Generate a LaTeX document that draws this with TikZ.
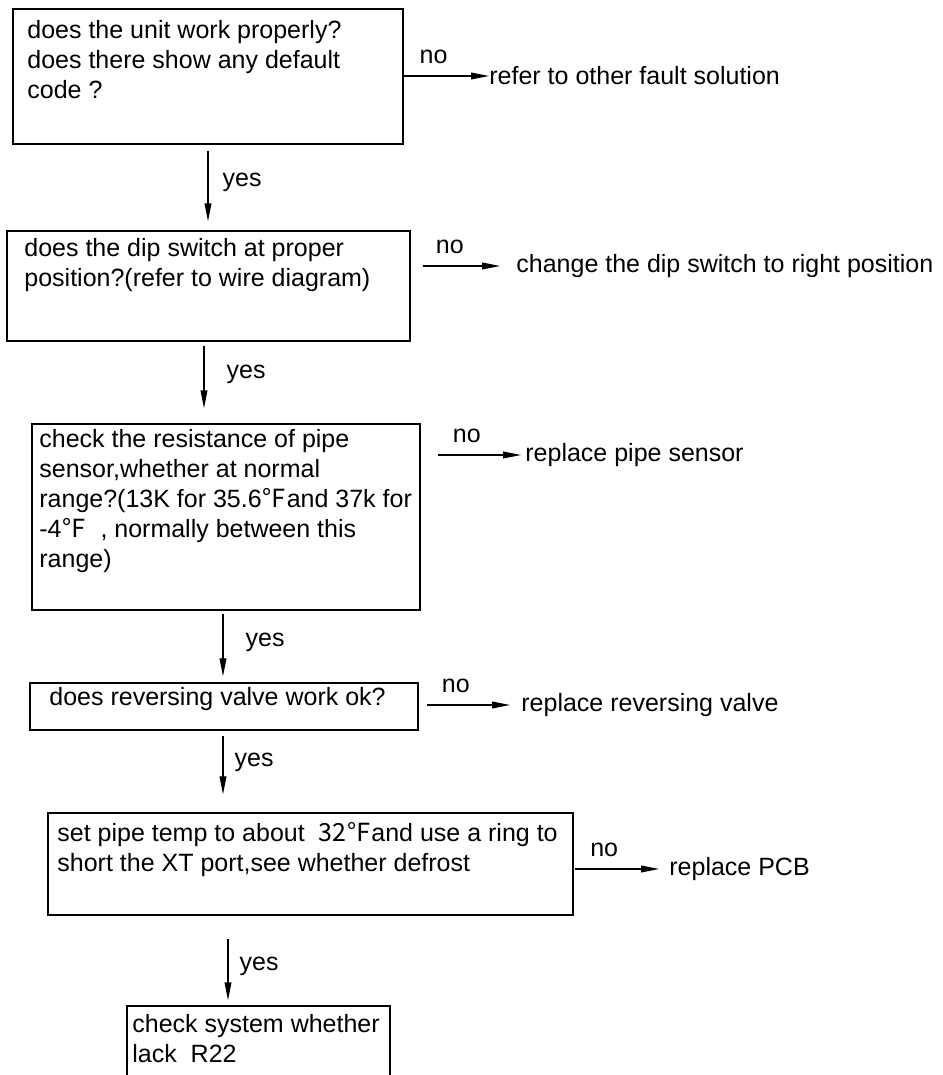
\documentclass[tikz,border=0pt]{standalone}
\usepackage{fontspec}
\setmainfont{Liberation Sans}
\newfontfamily\cjk{Noto Sans CJK SC}
\usepackage{tikz}
\usetikzlibrary{positioning, calc, arrows.meta}

\begin{document}
\begin{tikzpicture}[
		x=0.5pt, y=-0.5pt,
		every node/.style={font=\fontsize{12.5}{15}\selectfont},
		qbox/.style={rectangle,draw,line width=0.7pt,inner sep=0},
		qtext/.style={anchor=north west,align=left,inner sep=0},
		ans/.style={anchor=west,inner sep=0},
		flow/.style={-{Triangle[length=9pt,width=3.4pt]},line width=0.6pt},
		nolab/.style={above=6pt,pos=0.35,inner sep=0},
		yeslab/.style={right=#1,pos=0.45,inner sep=0},
		yeslab/.default=7pt]
		\useasboundingbox (0,0) rectangle (942,1075);
		\clip (0,0) rectangle (942,1075);
		\node[qbox, minimum width=195pt, minimum height=67.5pt] (q1) at (208,76.5) {};
		\node[qbox, minimum width=201.5pt, minimum height=55pt] (q2) at (208.5,286) {};
		\node[qbox, minimum width=194pt, minimum height=93pt] (q3) at (226,517) {};
		\node[qbox, minimum width=194pt, minimum height=23.5pt] (q4) at (224,706.5) {};
		\node[qbox, minimum width=262.5pt, minimum height=51pt] (q5) at (310.5,864) {};
		\node[qbox, minimum width=131.5pt, minimum height=50pt] (q6) at (258.5,1056) {};
		
		% texts inside the boxes
		\node[qtext] (t1) at (27,20) {does the unit work properly?\\does there show any default\\code ?};
		\node[qtext] (t2) at (24,238) {does the dip switch at proper\\position?(refer to wire diagram)};
		\node[qtext] (t3) at (39,429) {check the resistance of pipe\\sensor,whether at normal\\range?(13K for 35.6{\cjk ℉}and 37k for\\-4{\cjk ℉}\ \ , normally between this\\range)};
		\node[qtext] (t4) at (49,687) {does reversing valve work ok?};
		\node[qtext] (t5) at (57,822) {set pipe temp to about\ \ {\cjk 32℉}and use a ring to\\short the XT port,see whether defrost};
		\node[qtext] (t6) at (132,1014) {check system whether\\lack\ \ R22};
		
		\node[ans] (a1) at (489,76) {refer to other fault solution};
		\node[ans] (a2) at (516,266) {change the dip switch to right position};
		\node[ans] (a3) at (525,455) {replace pipe sensor};
		\node[ans] (a4) at (521,705) {replace reversing valve};
		\node[ans] (a5) at (669,869) {replace PCB};
		
		\draw[flow] (q1.east |- a1.west) -- node[nolab]{no} (a1.west);
		\draw[flow] ($(q2.east |- a2.west)+(12,0)$) -- node[nolab]{no} ($(a2.west)+(-16,0)$);
		\draw[flow] ($(q3.east |- a3.west)+(17,0)$) -- node[nolab]{no} ($(a3.west)+(-4,0)$);
		\draw[flow] ($(q4.east |- a4.west)+(8,0)$) -- node[nolab]{no} ($(a4.west)+(-11,0)$);
		\draw[flow] ($(q5.east |- a5.west)+(1,0)$) -- node[nolab]{no} ($(a5.west)+(-10,0)$);
		
		\draw[flow] ($(q1.south)+(0,6)$) -- node[yeslab]{yes} ($(q2.north)+(-0.5,-9)$);
		\draw[flow] ($(q2.south)+(-4.5,4)$) -- node[yeslab=11pt]{yes} ($(q3.north)+(-22,-15)$);
		\draw[flow] ($(q3.south)+(-3,3)$) -- node[yeslab=11pt]{yes} ($(q4.north)+(-1,-6)$);
		\draw[flow] ($(q4.south)+(-1,5)$) -- node[yeslab=5.5pt]{yes} ($(q5.north)+(-87.5,-18)$);
		\draw[flow] ($(q5.south)+(-82.5,23)$) -- node[yeslab=5.5pt]{yes} ($(q6.north)+(-30.5,-5)$);
		
	\end{tikzpicture}
\end{document}
